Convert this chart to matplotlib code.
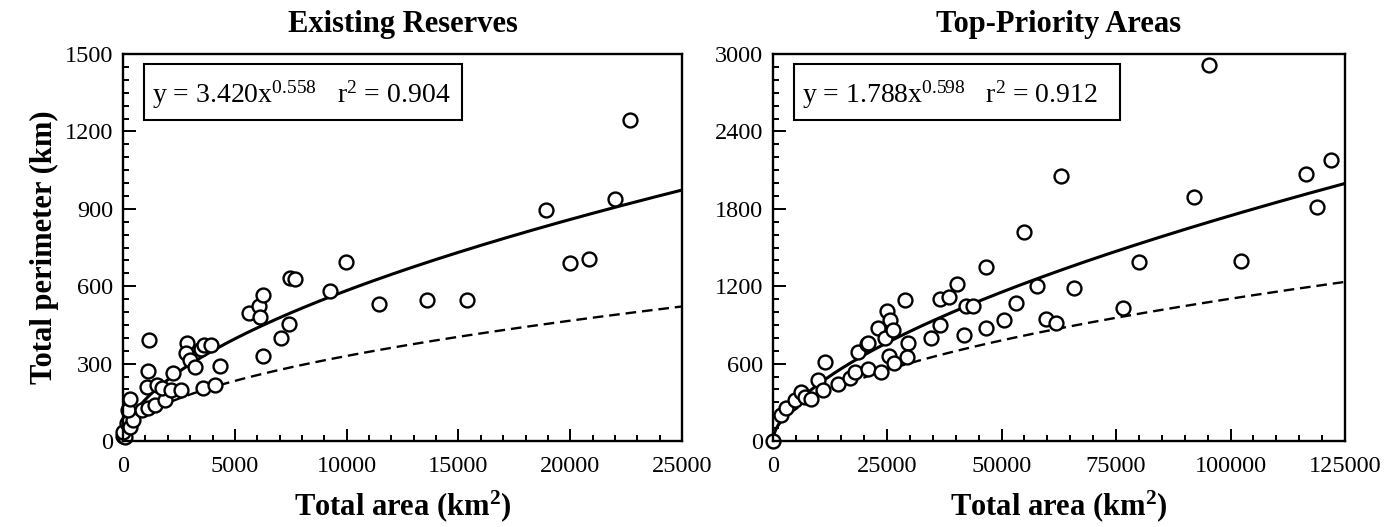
import matplotlib
matplotlib.use("Agg")
import matplotlib.pyplot as plt
from matplotlib.patches import Rectangle
from matplotlib.ticker import MultipleLocator
import numpy as np

plt.rcParams['font.family'] = ['Liberation Serif', 'DejaVu Serif']
plt.rcParams['mathtext.fontset'] = 'custom'
plt.rcParams['mathtext.rm'] = 'Liberation Serif'
plt.rcParams['mathtext.it'] = 'Liberation Serif:italic'
plt.rcParams['mathtext.bf'] = 'Liberation Serif:bold'

# Existing reserves (area km2, perimeter km)
res_area = [0, 90, 15, 165, 315, 460, 240, 315, 835, 1130, 1430, 1880, 1060, 1510,
            1130, 1180, 1730, 2250, 2150, 2600, 2850, 2800, 2980, 3220, 3500, 3640,
            3930, 4330, 3590, 4090, 5620, 6080, 6280, 6120, 6280, 7070, 7410, 7470,
            7710, 9240, 9960, 11450, 13610, 15360, 18920, 19990, 20830, 21980, 22680]
res_perim = [19, 17, 36, 69, 56, 81, 120, 165, 120, 127, 140, 159, 211, 217,
             273, 392, 205, 262, 197, 199, 379, 340, 314, 288, 356, 373,
             373, 291, 204, 219, 498, 524, 567, 482, 331, 400, 452, 633,
             629, 583, 695, 531, 548, 545, 895, 692, 707, 937, 1245]

# Top-priority areas
top_area = [0, 1900, 3000, 4800, 6250, 7000, 8400, 9900, 11000, 11400, 14200, 16800,
            17900, 18600, 20600, 20800, 20900, 23700, 23000, 24500, 24900, 25600,
            26300, 25500, 26600, 29600, 29400, 28900, 34500, 36500, 36500, 38600,
            40200, 41800, 42200, 43800, 46600, 46600, 50600, 53200, 55000, 57800,
            59600, 61800, 63000, 65800, 76600, 80100, 92000, 95400, 102200, 116500,
            118800, 122000]
top_perim = [0, 200, 255, 320, 380, 345, 325, 470, 395, 615, 445, 490,
             537, 692, 752, 556, 757, 537, 880, 800, 1010, 938,
             860, 660, 603, 757, 650, 1093, 796, 899, 1098, 1119,
             1217, 822, 1047, 1047, 874, 1351, 935, 1070, 1620, 1205,
             945, 915, 2055, 1190, 1035, 1390, 1890, 2915, 1395, 2070,
             1815, 2180]

panels = [
    dict(title='Existing Reserves', x=res_area, y=res_perim, a=3.420, b=0.558, r2=0.904,
         dash_a=3.30, xmax=25000, ymax=1500, xmaj=5000, xmin=1000, ymaj=300, ymin=50,
         pos=[0.0879, 0.163, 0.3993, 0.7345]),
    dict(title='Top-Priority Areas', x=top_area, y=top_perim, a=1.788, b=0.598, r2=0.912,
         dash_a=3.49, xmax=125000, ymax=3000, xmaj=25000, xmin=5000, ymaj=600, ymin=100,
         pos=[0.5519, 0.163, 0.4088, 0.7345]),
]

fig = plt.figure(figsize=(14, 5.27), dpi=100)

for i, p in enumerate(panels):
    ax = fig.add_axes(p['pos'])
    xs = np.linspace(0, p['xmax'], 400)
    # fitted power law (solid) and reference curve (dashed)
    ax.plot(xs, p['a'] * xs ** p['b'], color='black', lw=2.2)
    ax.plot(xs, p['dash_a'] * xs ** 0.5, color='black', lw=1.7, ls=(0, (4.5, 2.5)))
    ax.plot(p['x'], p['y'], 'o', ms=10, mfc='white', mec='black', mew=1.7, ls='none',
            clip_on=False)
    ax.set_xlim(0, p['xmax'])
    ax.set_ylim(0, p['ymax'])
    ax.xaxis.set_major_locator(MultipleLocator(p['xmaj']))
    ax.xaxis.set_minor_locator(MultipleLocator(p['xmin']))
    ax.yaxis.set_major_locator(MultipleLocator(p['ymaj']))
    ax.yaxis.set_minor_locator(MultipleLocator(p['ymin']))
    ax.tick_params(which='both', direction='in', top=False, right=False, width=1.4)
    ax.tick_params(which='major', length=9, labelsize=17.5)
    ax.tick_params(axis='x', which='major', pad=11)
    ax.tick_params(axis='y', which='major', pad=7)
    ax.tick_params(which='minor', length=4)
    for s in ax.spines.values():
        s.set_linewidth(1.7)
    ax.set_title(p['title'], fontsize=22, fontweight='bold', pad=16)
    ax.set_xlabel('Total area (km$^{\\mathbf{2}}$)', fontsize=22, fontweight='bold', labelpad=8)
    if i == 0:
        ax.set_ylabel('Total perimeter (km)', fontsize=22, fontweight='bold', labelpad=4)
    ax.add_patch(Rectangle((0.037, 0.83), 0.57, 0.144, transform=ax.transAxes,
                           fc='white', ec='black', lw=1.5, zorder=5))
    ax.text(0.052, 0.895, 'y = %.3fx$^{\\mathrm{%.3f}}$   r$^{\\mathrm{2}}$ = %.3f' % (p['a'], p['b'], p['r2']),
            transform=ax.transAxes, fontsize=20, va='center', ha='left', zorder=6)

fig.savefig('out.png', dpi=100)
